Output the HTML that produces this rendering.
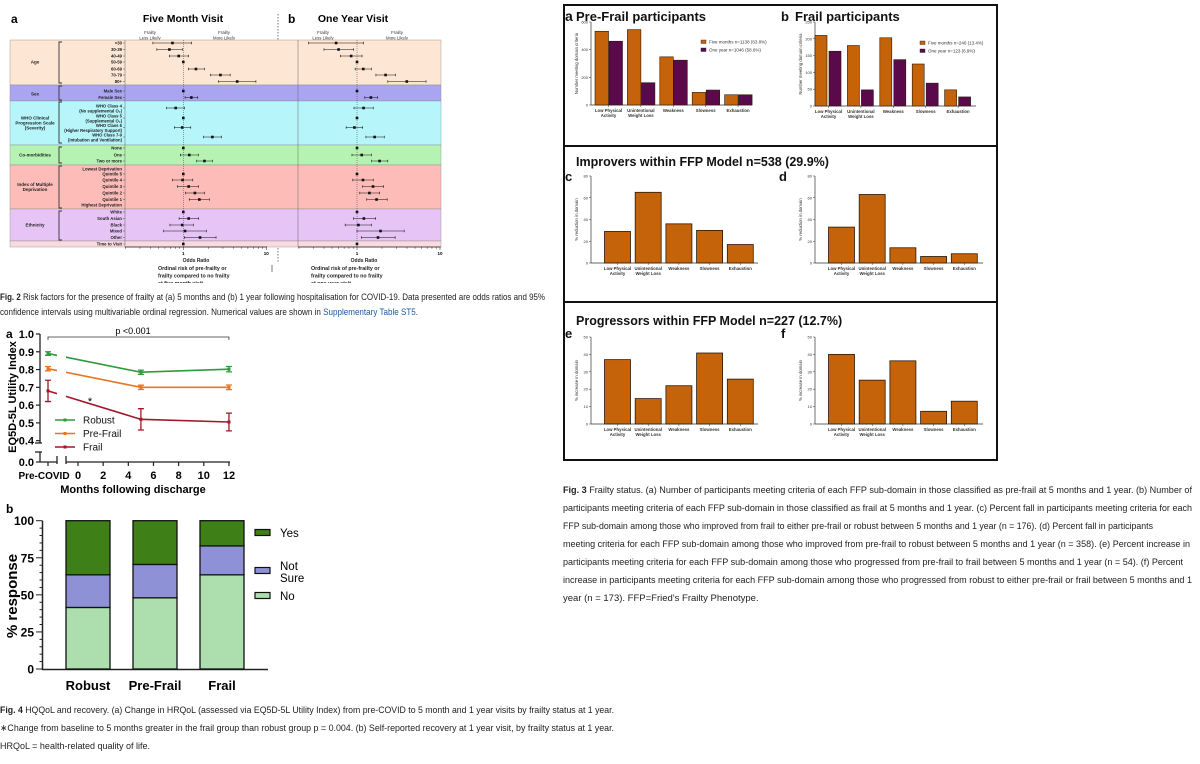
<!DOCTYPE html>
<html><head><meta charset="utf-8">
<style>
html,body{margin:0;padding:0;background:#fff;}
svg{display:block;font-family:"Liberation Sans",sans-serif;}
.cap{font-family:"Liberation Sans",sans-serif;font-size:9.5px;fill:#222;}
</style></head>
<body>
<svg id="fig" width="1200" height="764" viewBox="0 0 1200 764" xmlns="http://www.w3.org/2000/svg">
<g font-weight="bold">
<text x="11" y="23" font-size="12">a</text>
<text x="183" y="22" font-size="10.5" text-anchor="middle">Five Month Visit</text>
<text x="288" y="23" font-size="12">b</text>
<text x="353" y="22" font-size="10.5" text-anchor="middle">One Year Visit</text>
</g>
<g font-size="4.3" fill="#333" text-anchor="middle">
<text x="150" y="34">Frailty</text><text x="150" y="39.5">Less Likely</text>
<text x="224" y="34">Frailty</text><text x="224" y="39.5">More Likely</text>
<text x="323" y="34">Frailty</text><text x="323" y="39.5">Less Likely</text>
<text x="397" y="34">Frailty</text><text x="397" y="39.5">More Likely</text>
</g>
<line x1="278" y1="14" x2="278" y2="262" stroke="#555" stroke-width="0.8" stroke-dasharray="1.5,1.5"/>
<g id="forest"></g>
<g font-size="5" font-weight="bold" fill="#222">
<text x="196" y="262" text-anchor="middle">Odds Ratio</text>
<text x="364" y="262" text-anchor="middle">Odds Ratio</text>
<text x="158" y="270" font-size="5.3">Ordinal risk of pre-frailty or</text>
<text x="158" y="277.5" font-size="5.3">frailty compared to no frailty</text>
<text x="158" y="285" font-size="5.3">at five month visit</text>
<text x="311" y="270" font-size="5.3">Ordinal risk of pre-frailty or</text>
<text x="311" y="277.5" font-size="5.3">frailty compared to no frailty</text>
<text x="311" y="285" font-size="5.3">at one year visit</text>
</g>
<rect x="0" y="283" width="560" height="6" fill="#fff"/>
<line x1="272" y1="265" x2="272" y2="272" stroke="#444" stroke-width="0.7"/>
<g class="cap">
<text x="0" y="300" textLength="545" lengthAdjust="spacingAndGlyphs"><tspan font-weight="bold">Fig. 2</tspan> Risk factors for the presence of frailty at (a) 5 months and (b) 1 year following hospitalisation for COVID-19. Data presented are odds ratios and 95%</text>
<text x="0" y="315" textLength="418" lengthAdjust="spacingAndGlyphs">confidence intervals using multivariable ordinal regression. Numerical values are shown in <tspan fill="#1a5aa6">Supplementary Table ST5</tspan>.</text>
</g>
<g id="linechart"></g>
<g id="stackchart"></g>
<g class="cap">
<text x="0" y="713" textLength="614" lengthAdjust="spacingAndGlyphs"><tspan font-weight="bold">Fig. 4</tspan> HQQoL and recovery. (a) Change in HRQoL (assessed via EQ5D-5L Utility Index) from pre-COVID to 5 month and 1 year visits by frailty status at 1 year.</text>
<text x="0" y="731" textLength="614" lengthAdjust="spacingAndGlyphs">∗Change from baseline to 5 months greater in the frail group than robust group p = 0.004. (b) Self-reported recovery at 1 year visit, by frailty status at 1 year.</text>
<text x="0" y="749" textLength="150" lengthAdjust="spacingAndGlyphs">HRQoL = health-related quality of life.</text>
</g>
<rect x="564" y="5" width="433" height="455" fill="none" stroke="#111" stroke-width="2"/>
<line x1="564" y1="146" x2="997" y2="146" stroke="#111" stroke-width="2"/>
<line x1="564" y1="302" x2="997" y2="302" stroke="#111" stroke-width="2"/>
<g font-weight="bold" fill="#111">
<text x="565" y="21" font-size="14">a</text>
<text x="576" y="21" font-size="13">Pre-Frail participants</text>
<text x="781" y="21" font-size="13">b</text>
<text x="795" y="21" font-size="13">Frail participants</text>
<text x="576" y="166" font-size="12.5">Improvers within FFP Model n=538 (29.9%)</text>
<text x="565" y="181" font-size="13">c</text>
<text x="779" y="181" font-size="13">d</text>
<text x="576" y="325" font-size="12.5">Progressors within FFP Model n=227 (12.7%)</text>
<text x="565" y="338" font-size="13">e</text>
<text x="781" y="338" font-size="13">f</text>
</g>
<g id="fig3"></g>
<g class="cap">
<text x="563" y="493" textLength="629" lengthAdjust="spacingAndGlyphs"><tspan font-weight="bold">Fig. 3</tspan> Frailty status. (a) Number of participants meeting criteria of each FFP sub-domain in those classified as pre-frail at 5 months and 1 year. (b) Number of</text>
<text x="563" y="511" textLength="629" lengthAdjust="spacingAndGlyphs">participants meeting criteria of each FFP sub-domain in those classified as frail at 5 months and 1 year. (c) Percent fall in participants meeting criteria for each</text>
<text x="563" y="529" textLength="590" lengthAdjust="spacingAndGlyphs">FFP sub-domain among those who improved from frail to either pre-frail or robust between 5 months and 1 year (n = 176). (d) Percent fall in participants</text>
<text x="563" y="547" textLength="627" lengthAdjust="spacingAndGlyphs">meeting criteria for each FFP sub-domain among those who improved from pre-frail to robust between 5 months and 1 year (n = 358). (e) Percent increase in</text>
<text x="563" y="565" textLength="620" lengthAdjust="spacingAndGlyphs">participants meeting criteria for each FFP sub-domain among those who progressed from pre-frail to frail between 5 months and 1 year (n = 54). (f) Percent</text>
<text x="563" y="583" textLength="629" lengthAdjust="spacingAndGlyphs">increase in participants meeting criteria for each FFP sub-domain among those who progressed from robust to either pre-frail or frail between 5 months and 1</text>
<text x="563" y="601">year (n = 173). FFP=Fried's Frailty Phenotype.</text>
</g>
</svg>
<script>
const forestRowLabels = ["<30","30-39","40-49","50-59","60-69","70-79","80+","Male Sex","Female Sex","WHO Class 4","WHO Class 5","WHO Class 6","WHO Class 7-9","None","One","Two or more","Quintile 5","Quintile 4","Quintile 3","Quintile 2","Quintile 1","White","South Asian","Black","Mixed","Other","Time to Visit"];
const forestRowY = [43,49.5,56,62,69,75,81.5,91,97.5,108,118,127.5,137,148,155,161,174,180,186.5,193,199.5,212,218.5,225,231,237.5,244];
const orFive = [0.74,0.68,0.88,1,1.42,2.80,4.46,1,1.25,0.81,1,0.97,2.24,1,1.18,1.80,1,0.98,1.16,1.38,1.56,1,1.16,0.97,1.05,1.59,1];
const loFive = [0.43,0.48,0.68,1,1.15,2.12,2.65,1,1.05,0.63,1,0.78,1.75,1,0.92,1.45,1,0.74,0.85,1.06,1.18,1,0.89,0.69,0.58,1.03,1];
const hiFive = [1.26,0.98,1.16,1,1.80,3.67,7.50,1,1.49,1.03,1,1.23,2.88,1,1.52,2.24,1,1.30,1.53,1.80,2.06,1,1.53,1.32,1.90,2.48,1];
const orYear = [0.56,0.60,0.85,1,1.19,2.21,3.98,1,1.47,1.20,1,0.93,1.63,1,1.14,1.87,1,1.18,1.56,1.41,1.72,1,1.21,1.04,1.92,1.79,1];
const loYear = [0.26,0.40,0.63,1,0.95,1.69,2.35,1,1.24,0.92,1,0.74,1.28,1,0.87,1.50,1,0.89,1.17,1.08,1.31,1,0.91,0.72,1.00,1.13,1];
const hiYear = [1.20,0.91,1.15,1,1.49,2.91,6.79,1,1.77,1.57,1,1.17,2.13,1,1.49,2.35,1,1.57,2.09,1.87,2.31,1,1.68,1.49,3.70,2.88,1];
const forestGroups = ["Age","Sex","WHO Clinical Progression Scale (Severity)","Co-morbidities","Index of Multiple Deprivation","Ethnicity",""];

const lineSeries = ["Robust","Pre-Frail","Frail"];
const lineMonths = [5,12];
const robustVals = [0.89,0.785,0.802];
const robustErr = [0.01,0.012,0.015];
const prefrailVals = [0.805,0.70,0.70];
const prefrailErr = [0.012,0.012,0.013];
const frailVals = [0.68,0.52,0.505];
const frailErr = [0.06,0.06,0.05];
const lineYTicks = [0.4,0.5,0.6,0.7,0.8,0.9,1.0];
const lineXTicks = [0,2,4,6,8,10,12];

const stackCats = ["Robust","Pre-Frail","Frail"];
const stackNo = [41.5,48,63.5];
const stackNotSure = [22,22.5,19.5];
const stackYes = [36.5,29.5,17];
const stackTicks = [0,25,50,75,100];

const ffpCats = [["Low Physical","Activity"],["Unintentional","Weight Loss"],["Weakness"],["Slowness"],["Exhaustion"]];
const preFrailFive = [533,545,348,91,74];
const preFrailYear = [461,161,324,108,74];
const frailFive = [210,180,203,125,48];
const frailYear = [163,48,138,68,27];
const improvC = [29,65,36,30,17];
const improvD = [33,63,14,6,8.5];
const progE = [37,14.6,22,40.8,25.8];
const progF = [40,25.2,36.3,7.3,13.1];

const NS = "http://www.w3.org/2000/svg";
function mk(parent, tag, attrs, txt){
  const e = document.createElementNS(NS, tag);
  for (const k in attrs) e.setAttribute(k, attrs[k]);
  if (txt !== undefined) e.textContent = txt;
  parent.appendChild(e);
  return e;
}

(function(){
  const g = document.getElementById('forest');
  const bands = [[40,85,"#fde6d4"],[85,101,"#aaa5f1"],[101,145,"#b6f6fb"],[145,165,"#b6f3b2"],[165,209,"#fdbcb8"],[209,241,"#e7c4f6"],[241,247,"#fbdadd"]];
  const gl = [[62,42,83],[94,86,100],[123,102,143],[155,147,163],[187,166,208],[225,211,240],[244,0,0]];
  bands.forEach((b,i)=>{
    const r = mk(g,'rect',{x:10,y:b[0],width:431,height:b[1]-b[0],fill:b[2],stroke:"#888","stroke-width":0.4});
    
    
    if (gl[i][1]) {
      const br = mk(g,'path',{d:`M62,${gl[i][1]} h-3 V${gl[i][2]} h3`,fill:"none",stroke:"#333","stroke-width":0.9});
      
      
    }
    const lines = forestGroups[i]==="WHO Clinical Progression Scale (Severity)"?["WHO Clinical","Progression Scale","(Severity)"]:forestGroups[i]==="Index of Multiple Deprivation"?["Index of Multiple","Deprivation"]:[forestGroups[i]];
    lines.forEach((l,j)=>{
      const t = mk(g,'text',{x:35,y:gl[i][0]+1.5+(j-(lines.length-1)/2)*5.2,"font-size":4.5,"font-weight":"bold","text-anchor":"middle",fill:"#222"},l);
      
      
    });
  });
  mk(g,'line',{x1:125,y1:40,x2:125,y2:247,stroke:"#666","stroke-width":0.5});
  mk(g,'line',{x1:298,y1:40,x2:298,y2:247,stroke:"#666","stroke-width":0.5});
  const extra = {"WHO Class 4":"(No supplemental O₂)","WHO Class 5":"(Supplemental O₂)","WHO Class 6":"(Higher Respiratory Support)","WHO Class 7-9":"(Intubation and Ventilation)"};
  forestRowLabels.forEach((l,i)=>{
    const y = forestRowY[i];
    if (extra[l]) {
      const t = mk(g,'text',{x:122,y:y-0.5,"font-size":4.2,"font-weight":"bold","text-anchor":"end",fill:"#222"},l);
      
      
      const t2 = mk(g,'text',{x:122,y:y+4.3,"font-size":4.2,"font-weight":"bold","text-anchor":"end",fill:"#222"},extra[l]);
      
      
    } else {
      const t = mk(g,'text',{x:122,y:y+1.5,"font-size":4.3,"font-weight":"bold","text-anchor":"end",fill:"#222"},l);
      
      
    }
    mk(g,'line',{x1:123,y1:y,x2:125,y2:y,stroke:"#333","stroke-width":0.4});
  });
  [["Lowest Deprivation",169],["Highest Deprivation",205]].forEach(a=>{
    const t = mk(g,'text',{x:122,y:a[1]+1.5,"font-size":4.3,"font-weight":"bold","text-anchor":"end",fill:"#222"},a[0]);
    
    
  });
  function panel(x1, x0, vals, lo, hi, name){
    const sx = v => x1 + Math.log10(v)*83;
    mk(g,'line',{x1:sx(1),y1:40,x2:sx(1),y2:247,stroke:"#444","stroke-width":0.5,"stroke-dasharray":"1,1"});
    mk(g,'line',{x1:x0,y1:247,x2:sx(10.2),y2:247,stroke:"#222","stroke-width":0.7});
    [0.2,0.3,0.4,0.5,0.6,0.7,0.8,0.9,1,2,3,4,5,6,7,8,9,10].forEach(v=>{
      if (sx(v) < x0) return;
      const major = (v===1||v===10);
      mk(g,'line',{x1:sx(v),y1:247,x2:sx(v),y2:major?250:248.8,stroke:"#222","stroke-width":0.5});
      if (major) mk(g,'text',{x:sx(v),y:255,"font-size":4.5,"font-weight":"bold","text-anchor":"middle"},String(v));
    });
    forestRowY.forEach((y,i)=>{
      if (lo[i]!==hi[i]) {
        const ci = mk(g,'path',{d:`M${sx(lo[i])},${y-1.2}v2.4M${sx(lo[i])},${y}H${sx(hi[i])}M${sx(hi[i])},${y-1.2}v2.4`,stroke:"#111","stroke-width":0.6,fill:"none"});
        
        
      }
      const p = mk(g,'rect',{x:sx(vals[i])-1.3,y:y-1.3,width:2.6,height:2.6,fill:"#111"});
      
      
    });
  }
  panel(183.3, 125, orFive, loFive, hiFive, 'five-month');
  panel(357, 298, orYear, loYear, hiYear, 'one-year');
})();

(function(){
  const g = document.getElementById('linechart');
  const ys = v => 334 + (1-v)*177.8;
  const xs = m => 78 + m*12.58;
  const xPre = 48;
  const t0 = mk(g,'text',{x:6,y:338,"font-size":12,"font-weight":"bold"},"a");
  
  
  mk(g,'line',{x1:40,y1:334,x2:40,y2:443,stroke:"#222","stroke-width":1.3});
  mk(g,'line',{x1:40,y1:452,x2:40,y2:462,stroke:"#222","stroke-width":1.3});
  mk(g,'line',{x1:35,y1:443,x2:42,y2:443,stroke:"#222","stroke-width":1.3});
  mk(g,'line',{x1:35,y1:452,x2:42,y2:452,stroke:"#222","stroke-width":1.3});
  mk(g,'line',{x1:40,y1:462,x2:57,y2:462,stroke:"#222","stroke-width":1.3});
  mk(g,'line',{x1:57,y1:456,x2:57,y2:464,stroke:"#222","stroke-width":1.3});
  mk(g,'line',{x1:66,y1:462,x2:230,y2:462,stroke:"#222","stroke-width":1.3});
  mk(g,'line',{x1:66,y1:456,x2:66,y2:464,stroke:"#222","stroke-width":1.3});
  lineYTicks.forEach(v=>{
    mk(g,'line',{x1:36,y1:ys(v),x2:40,y2:ys(v),stroke:"#222","stroke-width":1.2});
    const t = mk(g,'text',{x:34,y:ys(v)+4,"font-size":11,"font-weight":"bold","text-anchor":"end"},v.toFixed(1));
    
    
  });
  mk(g,'line',{x1:36,y1:462,x2:40,y2:462,stroke:"#222","stroke-width":1.2});
  mk(g,'text',{x:34,y:466,"font-size":11,"font-weight":"bold","text-anchor":"end"},"0.0");
  mk(g,'line',{x1:xPre,y1:462,x2:xPre,y2:466,stroke:"#222","stroke-width":1.2});
  const tp = mk(g,'text',{x:xPre-4,y:479,"font-size":10,"font-weight":"bold","text-anchor":"middle"},"Pre-COVID");
  
  
  lineXTicks.forEach(m=>{
    mk(g,'line',{x1:xs(m),y1:462,x2:xs(m),y2:466,stroke:"#222","stroke-width":1.2});
    const t = mk(g,'text',{x:xs(m),y:479,"font-size":11,"font-weight":"bold","text-anchor":"middle"},String(m));
    
    
  });
  const xt = mk(g,'text',{x:133,y:493,"font-size":11,"font-weight":"bold","text-anchor":"middle"},"Months following discharge");
  
  
  const yt = mk(g,'text',{x:0,y:0,"font-size":11,"font-weight":"bold","text-anchor":"middle",transform:"translate(16,397) rotate(-90)"},"EQ5D-5L Utility Index");
  
  
  mk(g,'path',{d:`M${xPre},340 V337 H${xs(12)} V340`,fill:"none",stroke:"#333","stroke-width":0.8});
  mk(g,'text',{x:133,y:334,"font-size":9,"text-anchor":"middle"},"p <0.001");
  mk(g,'text',{x:90,y:405,"font-size":11,"text-anchor":"middle"},"*");
  const defs = mk(g,'defs',{});
  const cp = mk(defs,'clipPath',{id:"gapclip"});
  mk(cp,'rect',{x:0,y:320,width:57,height:150});
  mk(cp,'rect',{x:66,y:320,width:200,height:150});
  const colors = ["#2f9a3a","#e8761e","#a0182a"];
  const vals = [robustVals, prefrailVals, frailVals];
  const errs = [robustErr, prefrailErr, frailErr];
  vals.forEach((v,s)=>{
    const xsArr = [xPre, xs(lineMonths[0]), xs(lineMonths[1])];
    const pts = v.map((val,i)=>`${xsArr[i]},${ys(val)}`).join(' ');
    const pl = mk(g,'polyline',{points:pts,fill:"none",stroke:colors[s],"stroke-width":1.6,"clip-path":"url(#gapclip)"});
    
    
    v.forEach((val,i)=>{
      const e = errs[s][i];
      const eb = mk(g,'path',{d:`M${xsArr[i]-3},${ys(val+e)}h6M${xsArr[i]},${ys(val+e)}V${ys(val-e)}M${xsArr[i]-3},${ys(val-e)}h6`,stroke:colors[s],"stroke-width":1.3,fill:"none"});
      
      
      mk(g,'rect',{x:xsArr[i]-1.5,y:ys(val)-1.5,width:3,height:3,fill:colors[s]});
    });
    const ly = 420 + s*13.5;
    const le = mk(g,'line',{x1:55,y1:ly,x2:75,y2:ly,stroke:colors[s],"stroke-width":1.4});
    
    
    mk(g,'rect',{x:63.5,y:ly-1.5,width:3,height:3,fill:colors[s]});
    mk(g,'text',{x:83,y:ly+3.5,"font-size":10,fill:"#111"},lineSeries[s]);
  });
})();

(function(){
  const g = document.getElementById('stackchart');
  const ys = v => 669 - v*1.483;
  const t0 = mk(g,'text',{x:6,y:513,"font-size":12,"font-weight":"bold"},"b");
  
  
  mk(g,'line',{x1:42.5,y1:ys(100),x2:42.5,y2:670,stroke:"#222","stroke-width":1.5});
  mk(g,'line',{x1:42,y1:669.5,x2:268,y2:669.5,stroke:"#222","stroke-width":1.5});
  for (let v=0; v<=100; v+=5) mk(g,'line',{x1:(v%25===0)?36:39.5,y1:ys(v),x2:42.5,y2:ys(v),stroke:"#222","stroke-width":1});
  stackTicks.forEach(v=>{
    const t = mk(g,'text',{x:34,y:ys(v)+4.5,"font-size":12,"font-weight":"bold","text-anchor":"end"},String(v));
    
    
  });
  const yt = mk(g,'text',{x:0,y:0,"font-size":15,"font-weight":"bold","text-anchor":"middle",transform:"translate(17,596) rotate(-90)"},"% response");
  
  
  const cols = ["#acdfad","#8f91d7","#3f7f17"];
  stackCats.forEach((c,i)=>{
    const x = 66 + i*67;
    const parts = [stackNo[i], stackNotSure[i], stackYes[i]];
    let base = 0;
    parts.forEach((p,j)=>{
      const r = mk(g,'rect',{x:x,y:ys(base+p),width:44,height:p*1.483,fill:cols[j],stroke:"#111","stroke-width":1.3});
      
      
      base += p;
    });
    const t = mk(g,'text',{x:x+22,y:690,"font-size":13,"font-weight":"bold","text-anchor":"middle"},c);
    
    
  });
  [["Yes",533,[]],["Not",566,["Sure"]],["No",596,[]]].forEach((l,j)=>{
    const sw = mk(g,'rect',{x:255,y:[533,571,596][j]-3.5,width:15,height:6,fill:cols[2-j],stroke:"#111","stroke-width":1.2});
    
    
    mk(g,'text',{x:280,y:l[1]+4,"font-size":11.5},l[0]);
    l[2].forEach(s=>mk(g,'text',{x:280,y:l[1]+16,"font-size":11.5},s));
  });
})();

(function(){
  const g = document.getElementById('fig3');
  function axes(x0,y0,yTop,xEnd,ticks,vmax,title){
    const sy = v => y0 - (y0-yTop)*v/vmax;
    mk(g,'line',{x1:x0,y1:yTop,x2:x0,y2:y0,stroke:"#333","stroke-width":0.7});
    mk(g,'line',{x1:x0,y1:y0,x2:xEnd,y2:y0,stroke:"#333","stroke-width":0.7});
    ticks.forEach(v=>{
      mk(g,'line',{x1:x0-2,y1:sy(v),x2:x0,y2:sy(v),stroke:"#333","stroke-width":0.5});
      mk(g,'text',{x:x0-3,y:sy(v)+1.5,"font-size":4,"text-anchor":"end",fill:"#333"},String(v));
    });
    const yt = mk(g,'text',{x:0,y:0,"font-size":4.3,"text-anchor":"middle",fill:"#333",transform:`translate(${x0-13},${(y0+yTop)/2}) rotate(-90)`},title);
    
    
    return sy;
  }
  function catLabels(xc,y0){
    ffpCats.forEach((c,i)=>{
      mk(g,'line',{x1:xc(i),y1:y0,x2:xc(i),y2:y0+2,stroke:"#333","stroke-width":0.5});
      c.forEach((l,j)=>{
        const t = mk(g,'text',{x:xc(i),y:y0+7+j*5,"font-size":4.3,"font-weight":"bold","text-anchor":"middle",fill:"#333"},l);
        
        
      });
    });
  }
  function grouped(x0,y0,yTop,xEnd,ticks,vmax,s1,s2,off,w,legY,leg,title,name){
    const sy = axes(x0,y0,yTop,xEnd,ticks,vmax,title);
    const xo = i => x0 + off + i*32.4;
    [s1,s2].forEach((s,k)=>{
      s.forEach((v,i)=>{
        const r = mk(g,'rect',{x:xo(i)+k*14,y:sy(v),width:w,height:y0-sy(v),fill:k?"#5a0a4a":"#c4630a",stroke:"#2a1a0a","stroke-width":0.6});
        
        
      });
    });
    catLabels(i=>xo(i)+13.5,y0);
    leg.forEach((l,k)=>{
      const sw = mk(g,'rect',{x:legY[0],y:legY[1]+k*8-2,width:5,height:3.5,fill:k?"#5a0a4a":"#c4630a",stroke:"#222","stroke-width":0.4});
      
      
      mk(g,'text',{x:legY[0]+8,y:legY[1]+k*8+1.5,"font-size":4.5,fill:"#333"},l);
    });
  }
  function single(x0,y0,yTop,xEnd,ticks,vmax,s,title,name){
    const sy = axes(x0,y0,yTop,xEnd,ticks,vmax,title);
    const xo = i => x0 + 13.5 + i*30.7;
    s.forEach((v,i)=>{
      const r = mk(g,'rect',{x:xo(i),y:sy(v),width:26,height:y0-sy(v),fill:"#c4630a",stroke:"#2a1a0a","stroke-width":0.8});
      
      
    });
    catLabels(i=>xo(i)+13,y0);
  }
  grouped(591,105,22,752,[0,200,400,600],600,preFrailFive,preFrailYear,4,13.5,[701,42],["Five months n=1138 (63.8%)","One year n=1046 (58.6%)"],"Number meeting domain criteria","prefrail");
  grouped(815,106,22,976,[0,50,100,150,200,250],250,frailFive,frailYear,0,12,[920,43],["Five months n=240 (13.4%)","One year n=123 (6.9%)"],"Number meeting domain criteria","frail");
  single(591,263,176,758,[0,20,40,60,80],80,improvC,"% reduction in domain","improvers-c");
  single(815,263,176,983,[0,20,40,60,80],80,improvD,"% reduction in domain","improvers-d");
  single(591,424,337,758,[0,10,20,30,40,50],50,progE,"% increase in domain","progressors-e");
  single(815,424,337,983,[0,10,20,30,40,50],50,progF,"% increase in domain","progressors-f");
})();
</script>
</body></html>
